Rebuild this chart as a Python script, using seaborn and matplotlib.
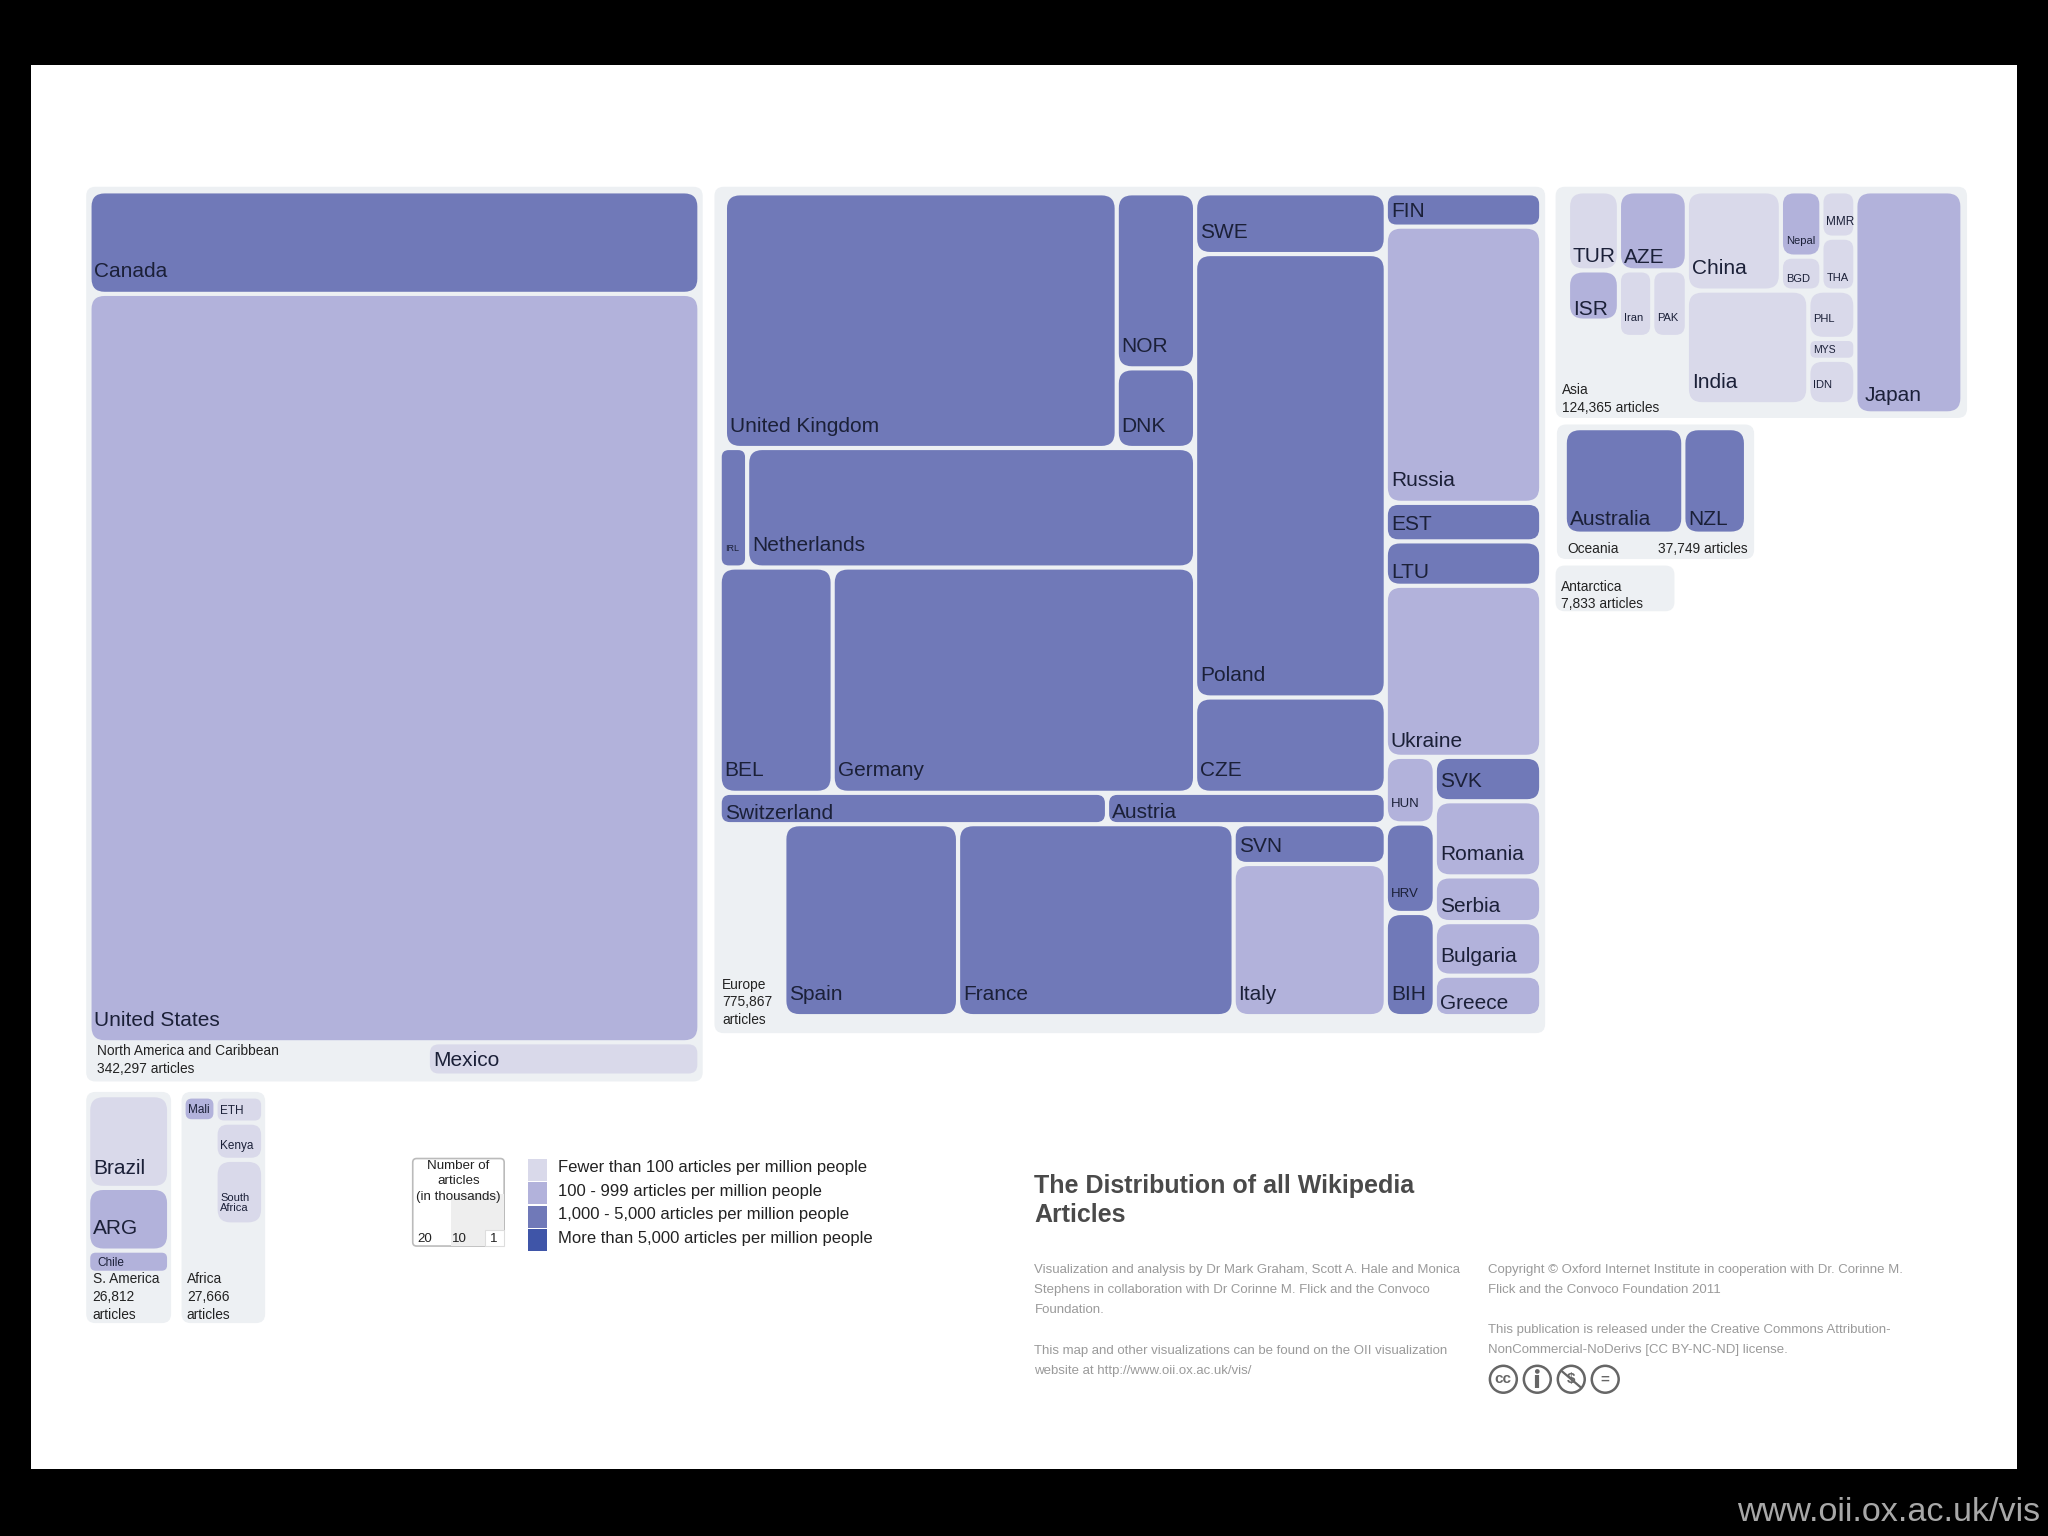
import matplotlib
matplotlib.use("Agg")
import matplotlib.pyplot as plt
import seaborn as sns
from matplotlib.patches import Circle, FancyBboxPatch, Rectangle

# articles per country
na_names = ["Canada", "United States", "Mexico"]
na_articles = [39690, 289720, 5740]
na_tiers = [2, 1, 0]

eu_names = ["United Kingdom", "NOR", "DNK", "IRL", "Netherlands", "BEL", "Germany", "SWE", "Poland", "CZE",
            "Switzerland", "Austria", "Spain", "France", "SVN", "Italy", "FIN", "Russia", "EST", "LTU",
            "Ukraine", "HUN", "HRV", "BIH", "SVK", "Romania", "Serbia", "Bulgaria", "Greece"]
eu_articles = [114660, 15760, 7170, 3770, 61510, 29250, 93820, 13310, 97150, 20890,
               13950, 10040, 38320, 60790, 6960, 26600, 5950, 49330, 6880, 7930,
               30550, 3750, 5040, 5810, 5430, 9190, 5590, 6550, 4950]
eu_tiers = [2, 2, 2, 2, 2, 2, 2, 2, 2, 2,
            2, 2, 2, 2, 2, 1, 2, 1, 2, 2,
            1, 1, 2, 2, 2, 1, 1, 1, 1]

asia_names = ["TUR", "AZE", "ISR", "Iran", "PAK", "China", "Nepal", "BGD", "MMR", "THA",
              "India", "PHL", "MYS", "IDN", "Japan"]
asia_articles = [6610, 8810, 4200, 3640, 3780, 15320, 4340, 2260, 2580, 2950,
                 22660, 3730, 1610, 3430, 39030]
asia_tiers = [0, 1, 1, 0, 0, 0, 1, 0, 0, 0,
              0, 0, 0, 0, 1]

oceania_names = ["Australia", "NZL"]
oceania_articles = [24695, 13054]
oceania_tiers = [2, 2]

sa_names = ["Brazil", "ARG", "Chile"]
sa_articles = [13997, 9463, 3352]
sa_tiers = [0, 1, 1]

africa_names = ["Mali", "ETH", "Kenya", "South\nAfrica"]
africa_articles = [3186, 4993, 7116, 12360]
africa_tiers = [1, 0, 0, 0]

legend_labels = ["Fewer than 100 articles per million people",
                 "100 - 999 articles per million people",
                 "1,000 - 5,000 articles per million people",
                 "More than 5,000 articles per million people"]

credits_left = ["Visualization and analysis by Dr Mark Graham, Scott A. Hale and Monica",
                "Stephens in collaboration with Dr Corinne M. Flick and the Convoco",
                "Foundation."]
credits_left2 = ["This map and other visualizations can be found on the OII visualization",
                 "website at http://www.oii.ox.ac.uk/vis/"]
credits_right = ["Copyright \u00a9 Oxford Internet Institute in cooperation with Dr. Corinne M.",
                 "Flick and the Convoco Foundation 2011"]
credits_right2 = ["This publication is released under the Creative Commons Attribution-",
                  "NonCommercial-NoDerivs [CC BY-NC-ND] license."]

articles = {}
tiers = {}
for ns, vs, ts in [(na_names, na_articles, na_tiers), (eu_names, eu_articles, eu_tiers),
                   (asia_names, asia_articles, asia_tiers), (oceania_names, oceania_articles, oceania_tiers),
                   (sa_names, sa_articles, sa_tiers), (africa_names, africa_articles, africa_tiers)]:
    articles.update(zip(ns, vs))
    tiers.update(zip(ns, ts))

# slice layout, numbers are blank room left for labels
na_tree = ("v", ["Canada", "United States", ("h", [7150, "Mexico"])])
eu_left = ("v", [("h", [1530, "United Kingdom", ("v", ["NOR", "DNK"])]),
                 ("h", ["IRL", "Netherlands"]),
                 ("h", ["BEL", "Germany"])])
eu_top = ("v", [("h", [eu_left, ("v", ["SWE", "Poland", "CZE"])]),
                ("h", ["Switzerland", "Austria"])])
eu_bottom = ("h", [14260, "Spain", "France", ("v", ["SVN", "Italy"])])
eu_right = ("v", [("v", ["FIN", "Russia", "EST", "LTU", "Ukraine"]),
                  ("h", [("v", ["HUN", "HRV", "BIH"]),
                         ("v", ["SVK", "Romania", "Serbia", "Bulgaria", "Greece"])])])
eu_tree = ("h", [("v", [eu_top, eu_bottom]), eu_right])
asia_left = ("v", [("h", ["TUR", "AZE"]),
                   ("h", [("v", ["ISR", 1365]), "Iran", "PAK"]),
                   14906])
asia_mid = ("v", [("h", ["China", ("v", ["Nepal", "BGD"]), ("v", ["MMR", "THA"])]),
                  ("h", ["India", ("v", ["PHL", "MYS", "IDN"])]),
                  2528])
asia_tree = ("h", [asia_left, asia_mid, "Japan"])
oceania_tree = ("h", ["Australia", "NZL"])
sa_tree = ("v", ["Brazil", "ARG", "Chile"])
africa_tree = ("h", [("v", ["Mali", 13239]), ("v", ["ETH", "Kenya", "South\nAfrica"])])

frames = [(na_tree, (68.5, 146.5, 535.5, 823.5)),
          (eu_tree, (551, 148, 1180, 778)),
          (asia_tree, (1200.5, 146.5, 1502.5, 316.5)),
          (oceania_tree, (1198, 327.8, 1336.8, 408.6)),
          (sa_tree, (67.5, 838.5, 129.5, 974.5)),
          (africa_tree, (140.5, 839.5, 201.5, 937.5))]

panels = [(66, 143, 538, 828), (547, 143, 1183, 791), (1191, 143, 1506, 320), (1192, 325, 1343, 428),
          (1191, 433, 1282, 468), (66, 836, 131, 1013), (139, 836, 203, 1013)]

small_labels = {"IRL": 6.5, "HUN": 9.5, "HRV": 9.5, "MMR": 8.5, "Nepal": 8, "Iran": 8, "PAK": 8, "BGD": 8,
                "THA": 8, "PHL": 8, "MYS": 7.5, "IDN": 8, "Mali": 8.5, "ETH": 8.5, "Kenya": 8.5,
                "South\nAfrica": 8, "Chile": 8.5}
label_drop = {"LTU": 4, "Switzerland": 2.5, "Austria": 3, "Greece": 4, "Serbia": 6, "Bulgaria": 9,
              "Japan": 8, "TUR": 5, "AZE": 4, "ISR": 3, "MMR": 8, "Nepal": 8, "BGD": 5, "THA": 6,
              "Australia": 5, "NZL": 5, "Brazil": 9, "Ukraine": 6, "Kenya": 7, "South\nAfrica": 9}
label_shift = {"Japan": 3, "Chile": 3}

tier_colors = sns.color_palette(["#d9d9ea", "#b2b2db", "#7079b8", "#3f55a8"])
PANEL = "#edf0f3"
INK = "#1b2038"
GAP = 1.6

sns.set_theme(style="white")
plt.rcParams["font.family"] = ["Liberation Sans", "DejaVu Sans"]

fig = plt.figure(figsize=(20.48, 15.36), dpi=100, facecolor="black")
ax = fig.add_axes([0, 0, 1, 1])
ax.set_xlim(0, 1568)
ax.set_ylim(1176, 0)
ax.axis("off")


def weight(node):
    if isinstance(node, str):
        return articles[node]
    if isinstance(node, tuple):
        return sum(weight(c) for c in node[1])
    return node


def round_box(x0, y0, x1, y1, color, r, ec="none", lw=0, z=2):
    ax.add_patch(FancyBboxPatch((x0, y0), x1 - x0, y1 - y0, boxstyle=f"round,pad=0,rounding_size={r}",
                                fc=color, ec=ec, lw=lw, zorder=z))


def draw_cell(name, x0, y0, x1, y1):
    x0, y0, x1, y1 = x0 + GAP, y0 + GAP, x1 - GAP, y1 - GAP
    w, h = x1 - x0, y1 - y0
    round_box(x0, y0, x1, y1, tier_colors[tiers[name]], min(10, 0.3 * min(w, h)))
    size = small_labels.get(name, 15)
    drop = label_drop.get(name, min(11, (h - size / 1.306) / 2))
    ax.text(x0 + 2.2 + label_shift.get(name, 0), y1 - drop, name, fontsize=size, color=INK, ha="left",
            va="baseline", linespacing=0.9, zorder=3)


def place(node, x0, y0, x1, y1):
    if isinstance(node, str):
        draw_cell(node, x0, y0, x1, y1)
    elif isinstance(node, tuple):
        total = weight(node)
        pos = x0 if node[0] == "h" else y0
        for child in node[1]:
            if node[0] == "h":
                end = pos + (x1 - x0) * weight(child) / total
                place(child, pos, y0, end, y1)
            else:
                end = pos + (y1 - y0) * weight(child) / total
                place(child, x0, pos, x1, end)
            pos = end


# white page
ax.add_patch(Rectangle((24, 50), 1520, 1075, fc="white", ec="none", zorder=0))

for p in panels:
    round_box(p[0], p[1], p[2], p[3], PANEL, 7, z=1)
for tree, box in frames:
    place(tree, *box)

# region captions
region_size = 9.9
for x, y, s in [(74, 811.5, "North America and Caribbean\n342,297 articles"),
                (553, 767.5, "Europe\n775,867\narticles"),
                (1196, 305.5, "Asia\n124,365 articles"),
                (1200, 420, "Oceania"),
                (1195, 456, "Antarctica\n7,833 articles"),
                (71, 993, "S. America\n26,812\narticles"),
                (143, 993, "Africa\n27,666\narticles")]:
    ax.text(x, y, s, fontsize=region_size, color="#222222", va="center", ha="left", linespacing=1.33, zorder=3)
ax.text(1338, 420, "37,749 articles", fontsize=region_size, color="#222222", va="center", ha="right", zorder=3)

# size key
round_box(316, 887, 386, 954, "white", 3, ec="#bbbbbb", lw=1.2, z=2)
ax.add_patch(Rectangle((345, 914), 41, 40, fc="#eeeeee", ec="none", zorder=2.5))
ax.add_patch(Rectangle((371, 942), 15, 12, fc="white", ec="#dddddd", lw=0.8, zorder=2.6))
ax.text(351, 904.5, "Number of\narticles\n(in thousands)", fontsize=9.6, color="#222222", ha="center", va="center",
        linespacing=1.35, zorder=3)
for x, s in [(325, "20"), (352, "10"), (378, "1")]:
    ax.text(x, 948.5, s, fontsize=9.6, color="#222222", ha="center", va="center", zorder=3)

# colour key
for i, label in enumerate(legend_labels):
    ax.add_patch(Rectangle((404, 887 + 18 * i), 15, 17, fc=tier_colors[i], ec="none", zorder=2))
    ax.text(427, 894 + 18 * i, label, fontsize=12, color="#222222", va="center", ha="left", zorder=3)

# title and credits
ax.text(792, 919, "The Distribution of all Wikipedia\nArticles", fontsize=18, fontweight="bold", color="#4a4a4a",
        va="center", ha="left", linespacing=1.25, zorder=3)
for x, y, lines in [(792, 972, credits_left), (792, 1034, credits_left2),
                    (1139, 972, credits_right), (1139, 1018, credits_right2)]:
    for i, line in enumerate(lines):
        ax.text(x, y + i * 15.4, line, fontsize=9.55, color="#9a9a9a", va="center", ha="left", zorder=3)

# licence badges
for x, s in [(1151, "cc"), (1177, ""), (1203, "$"), (1229, "=")]:
    ax.add_patch(Circle((x, 1056), 10.3, fc="white", ec="#666666", lw=1.8, zorder=3))
    if s:
        ax.text(x, 1056, s, fontsize=11, fontweight="bold", color="#666666", ha="center", va="center", zorder=4)
ax.add_patch(Circle((1177, 1050), 1.8, fc="#666666", ec="none", zorder=4))
ax.plot([1177, 1177], [1053, 1063], color="#666666", lw=3, solid_capstyle="butt", zorder=4)
ax.plot([1196, 1210], [1050, 1062], color="#666666", lw=1.6, zorder=5)

ax.text(1562, 1158, "www.oii.ox.ac.uk/vis", fontsize=24.6, color="#a8a8a8", ha="right", va="center")

fig.savefig("out.png", dpi=100, facecolor="black")
